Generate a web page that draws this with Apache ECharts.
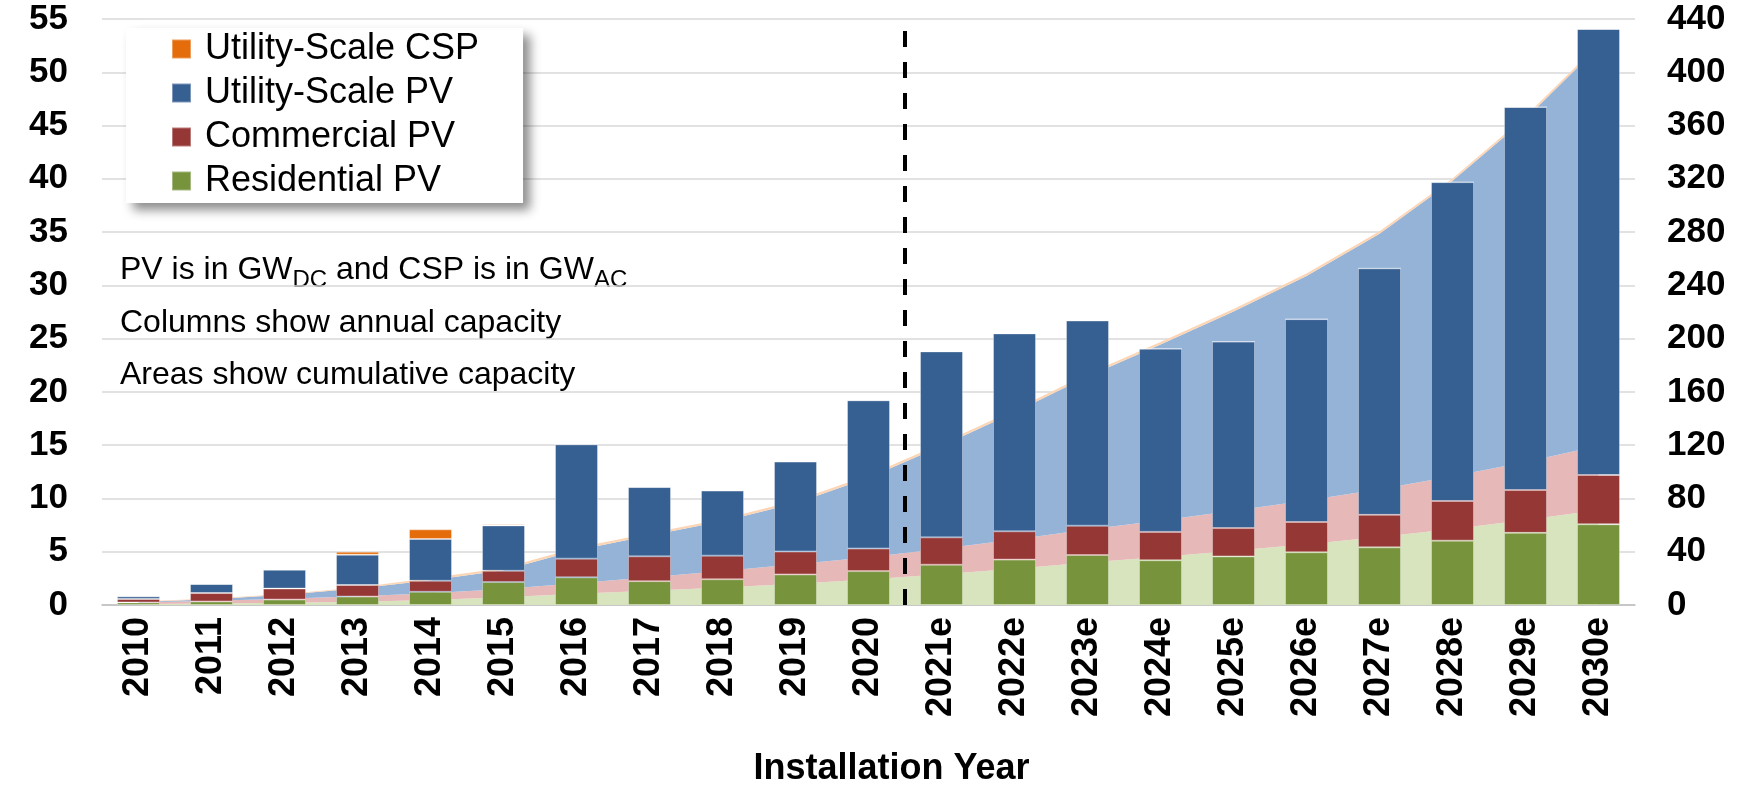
<!DOCTYPE html>
<html>
<head>
<meta charset="utf-8">
<title>Solar installations</title>
<script src="https://cdn.jsdelivr.net/npm/echarts@6/dist/echarts.min.js"></script>
<style>
    html, body { margin: 0; padding: 0; background: #fff; }
    #chart { width: 1742px; height: 792px; }
</style>
</head>
<body>
<div id="chart"></div>
<script>
    // categories
    var years = ['2010', '2011', '2012', '2013', '2014', '2015', '2016', '2017', '2018', '2019', '2020',
        '2021e', '2022e', '2023e', '2024e', '2025e', '2026e', '2027e', '2028e', '2029e', '2030e'];

    // annual installs, GW (left axis)
    var resAnnual = [0.24, 0.33, 0.51, 0.79, 1.24, 2.15, 2.6, 2.24, 2.42, 2.87, 3.18,
        3.78, 4.26, 4.69, 4.2, 4.56, 4.95, 5.41, 6.04, 6.77, 7.58];
    var comAnnual = [0.33, 0.79, 1.03, 1.09, 1.03, 1.06, 1.75, 2.33, 2.21, 2.15, 2.12,
        2.57, 2.66, 2.75, 2.66, 2.66, 2.84, 3.05, 3.72, 4.02, 4.62];
    var utilAnnual = [0.24, 0.85, 1.78, 2.84, 3.93, 4.26, 10.73, 6.5, 6.11, 8.44, 13.91,
        17.45, 18.57, 19.26, 17.2, 17.5, 19.04, 23.14, 29.93, 35.95, 41.86];
    var cspAnnual = [0.06, 0, 0, 0.28, 0.9, 0.12, 0, 0, 0, 0, 0,
        0, 0, 0, 0, 0, 0, 0, 0, 0, 0];

    // cumulative capacity, GW (right axis)
    var resCum = [0.8, 1.2, 1.7, 2.5, 3.7, 5.9, 8.5, 10.7, 13.1, 16.0, 19.2,
        23.0, 27.2, 31.9, 36.1, 40.7, 45.6, 51.0, 57.1, 63.8, 71.4];
    var comCum = [1.1, 1.9, 3.0, 4.0, 5.1, 6.1, 7.9, 10.2, 12.4, 14.6, 16.7,
        19.3, 21.9, 24.7, 27.3, 30.0, 32.8, 35.9, 39.6, 43.6, 48.2];
    var utilCum = [0.3, 1.2, 3.0, 5.8, 9.7, 14.0, 24.7, 31.2, 37.3, 45.8, 59.7,
        77.1, 95.7, 115.0, 132.2, 149.7, 168.7, 191.9, 221.8, 257.7, 299.6];
    var cspCum = [0.5, 0.5, 0.5, 0.8, 1.7, 1.8, 1.8, 1.8, 1.8, 1.8, 1.8,
        1.8, 1.8, 1.8, 1.8, 1.8, 1.8, 1.8, 1.8, 1.8, 1.8];

    // dashed divider between actuals and estimates (category index)
    var dividerAt = 10.5;

    var font = "'Liberation Sans', Arial, sans-serif";

    var chart = echarts.init(document.getElementById('chart'));

    function barSeries (name, data, color) {
        return {
            name: name,
            type: 'bar',
            stack: 'annual',
            barWidth: 43,
            z: 3,
            itemStyle: {
                color: color,
                borderColor: 'rgba(255,255,255,0.35)',
                borderWidth: 1
            },
            data: data
        };
    }

    function areaSeries (name, data, color) {
        return {
            name: name,
            type: 'line',
            stack: 'cumulative',
            yAxisIndex: 1,
            symbol: 'none',
            z: 1,
            lineStyle: { width: 0 },
            areaStyle: { color: color, opacity: 1 },
            data: data
        };
    }

    var option = {
        animation: false,
        textStyle: { fontFamily: font },
        grid: {
            left: 102,
            right: 107,
            top: 19,
            bottom: 166
        },
        legend: {
            data: ['Utility-Scale CSP', 'Utility-Scale PV', 'Commercial PV', 'Residential PV'],
            orient: 'vertical',
            left: 126,
            top: 28,
            icon: 'rect',
            itemWidth: 19,
            itemHeight: 19,
            itemGap: 8,
            padding: [3, 44, 4, 45],
            backgroundColor: '#fff',
            shadowColor: 'rgba(0,0,0,0.45)',
            shadowBlur: 10,
            shadowOffsetX: 7,
            shadowOffsetY: 7,
            textStyle: {
                fontFamily: font,
                fontSize: 36,
                lineHeight: 36,
                color: '#000',
                padding: [0, 0, 0, 9]
            }
        },
        xAxis: [
            {
                type: 'category',
                data: years,
                name: 'Installation Year',
                nameLocation: 'middle',
                nameGap: 146,
                nameTextStyle: {
                    fontFamily: font,
                    fontSize: 36,
                    fontWeight: 'bold',
                    color: '#000',
                    padding: [0, 0, 0, 46]
                },
                axisLine: { lineStyle: { color: '#BFBFBF', width: 1.5 } },
                axisTick: { length: 10, lineStyle: { color: '#BFBFBF', width: 1.5 } },
                axisLabel: {
                    interval: 0,
                    rotate: 90,
                    margin: 12,
                    fontFamily: font,
                    fontSize: 36,
                    fontWeight: 'bold',
                    color: '#000'
                }
            },
            {
                type: 'value',
                min: -0.5,
                max: 20.5,
                show: false
            }
        ],
        yAxis: [
            {
                type: 'value',
                min: 0,
                max: 55,
                interval: 5,
                axisLine: { show: false },
                axisTick: { show: false },
                axisLabel: {
                    margin: 34,
                    fontFamily: font,
                    fontSize: 35,
                    fontWeight: 'bold',
                    color: '#000'
                },
                splitLine: { lineStyle: { color: '#D9D9D9', width: 1.5 } }
            },
            {
                type: 'value',
                min: 0,
                max: 440,
                interval: 40,
                position: 'right',
                axisLine: { show: false },
                axisTick: { show: false },
                axisLabel: {
                    margin: 32,
                    fontFamily: font,
                    fontSize: 35,
                    fontWeight: 'bold',
                    color: '#000'
                },
                splitLine: { show: false }
            }
        ],
        graphic: [
            {
                type: 'text',
                x: 120,
                y: 270,
                style: {
                    text: 'PV is in GW{sub|DC} and CSP is in GW{sub|AC}',
                    font: '32px ' + font,
                    fill: '#000',
                    verticalAlign: 'middle',
                    rich: {
                        sub: { fontSize: 24, fontFamily: font, padding: [20, 0, 0, 0] }
                    }
                }
            },
            {
                type: 'text',
                x: 120,
                y: 323,
                style: {
                    text: 'Columns show annual capacity',
                    font: '32px ' + font,
                    fill: '#000',
                    verticalAlign: 'middle'
                }
            },
            {
                type: 'text',
                x: 120,
                y: 375,
                style: {
                    text: 'Areas show cumulative capacity',
                    font: '32px ' + font,
                    fill: '#000',
                    verticalAlign: 'middle'
                }
            }
        ],
        series: [
            areaSeries('Residential PV (cumulative)', resCum, '#D7E4BD'),
            areaSeries('Commercial PV (cumulative)', comCum, '#E6B9B8'),
            areaSeries('Utility-Scale PV (cumulative)', utilCum, '#95B3D7'),
            areaSeries('Utility-Scale CSP (cumulative)', cspCum, '#FCD5B5'),
            barSeries('Residential PV', resAnnual, '#77933C'),
            barSeries('Commercial PV', comAnnual, '#953735'),
            barSeries('Utility-Scale PV', utilAnnual, '#376092'),
            barSeries('Utility-Scale CSP', cspAnnual, '#E46C0A'),
            {
                name: 'divider',
                type: 'line',
                xAxisIndex: 1,
                yAxisIndex: 0,
                data: [],
                z: 5,
                markLine: {
                    silent: true,
                    symbol: 'none',
                    label: { show: false },
                    lineStyle: { color: '#000', width: 4, type: [16, 15] },
                    data: [{ xAxis: dividerAt }]
                }
            }
        ]
    };

    chart.setOption(option);
</script>
</body>
</html>
